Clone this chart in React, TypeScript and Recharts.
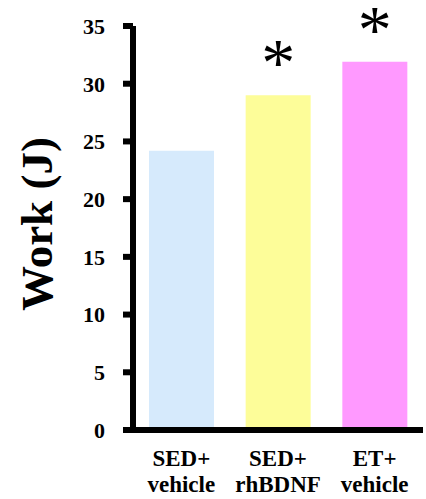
import { BarChart, Bar, XAxis, YAxis, Cell, LabelList, Label } from "recharts";

const groups = ["SED+ vehicle", "SED+ rhBDNF", "ET+ vehicle"];
const work = [24.2, 29.0, 31.9];
const significant = [false, true, true];
const barColors = ["#d6eafc", "#fdfd99", "#ff99ff"];
const yTicks = [0, 5, 10, 15, 20, 25, 30, 35];

const FONT = "Liberation Serif";

const chartData = groups.map((g, i) => ({
  group: g,
  work: work[i],
  star: significant[i] ? "*" : "",
}));

function GroupTick(props: any) {
  const { x, y, payload } = props;
  const [first, second] = String(payload.value).split(" ");
  return (
    <text
      x={x}
      y={y}
      textAnchor="middle"
      style={{ fontFamily: FONT, fontWeight: 700, fontSize: 23 }}
      fill="#000"
    >
      <tspan x={x} dy={36}>
        {first}
      </tspan>
      <tspan x={x} dy={26}>
        {second}
      </tspan>
    </text>
  );
}

function Star(props: any) {
  const { x, y, width, value } = props;
  if (!value) return null;
  return (
    <text
      x={x + width / 2}
      y={y - 10}
      textAnchor="middle"
      style={{ fontFamily: FONT, fontSize: 68 }}
      fill="#000"
    >
      {value}
    </text>
  );
}

function YTitle(props: any) {
  const { viewBox } = props;
  const cx = viewBox.x + 52;
  const cy = viewBox.y + viewBox.height / 2 - 4;
  return (
    <text
      x={cx}
      y={cy}
      transform={`rotate(-90, ${cx}, ${cy})`}
      textAnchor="middle"
      style={{ fontFamily: FONT, fontWeight: 700, fontSize: 45 }}
      fill="#000"
    >
      Work (J)
    </text>
  );
}

export default function App() {
  return (
    <div style={{ position: "absolute", left: 0, top: 0, background: "#fff" }}>
      <BarChart
        width={426}
        height={499}
        data={chartData}
        margin={{ top: 26, right: 3, bottom: 0, left: 0 }}
        barSize={65}
      >
        <XAxis
          dataKey="group"
          height={69}
          axisLine={{ stroke: "#000", strokeWidth: 6 }}
          tickLine={false}
          tickSize={0}
          tickMargin={0}
          tick={<GroupTick />}
          interval={0}
        />
        <YAxis
          width={133}
          domain={[0, 35]}
          ticks={yTicks}
          interval={0}
          axisLine={{ stroke: "#000", strokeWidth: 6 }}
          tickLine={{ stroke: "#000", strokeWidth: 6 }}
          tickSize={10}
          tickMargin={18}
          tick={{
            fill: "#000",
            style: { fontFamily: FONT, fontWeight: 700, fontSize: 22 },
          }}
        >
          <Label content={<YTitle />} />
        </YAxis>
        <Bar dataKey="work" isAnimationActive={false}>
          {chartData.map((_, i) => (
            <Cell key={i} fill={barColors[i]} />
          ))}
          <LabelList dataKey="star" content={<Star />} />
        </Bar>
      </BarChart>
    </div>
  );
}
